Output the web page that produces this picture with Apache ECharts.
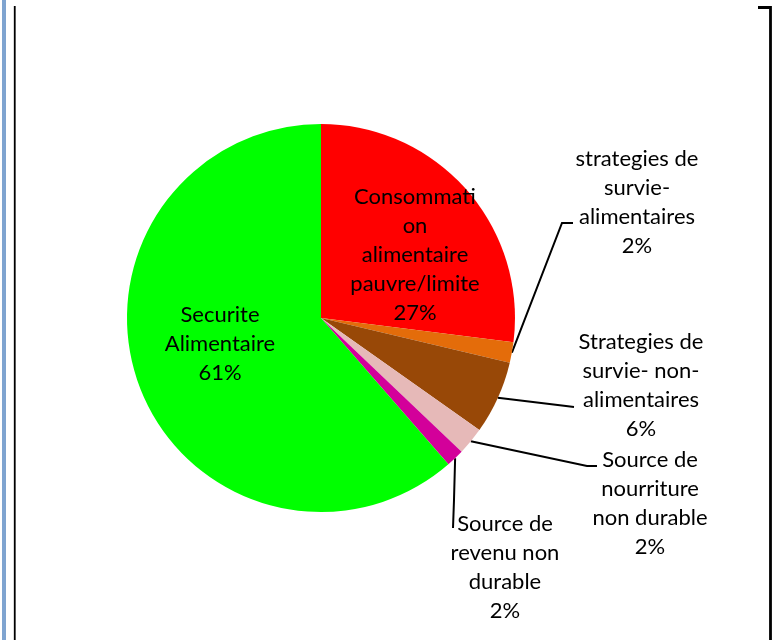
<!DOCTYPE html>
<html>
<head>
<meta charset="utf-8">
<script src="https://cdn.jsdelivr.net/npm/echarts@6/dist/echarts.min.js"></script>
<style>
html,body{margin:0;padding:0;background:#fff;}
#chart{width:775px;height:640px;}
</style>
</head>
<body>
<div id="chart"></div>
<script>
// ---- data ----
var categories = [
  'Consommati\non\nalimentaire\npauvre/limite',
  'strategies de\nsurvie-\nalimentaires',
  'Strategies de\nsurvie- non-\nalimentaires',
  'Source de\nnourriture\nnon durable',
  'Source de\nrevenu non\ndurable',
  'Securite\nAlimentaire'
];
var values = [27.0, 1.7, 6.1, 2.3, 1.5, 61.4];
var colors = ['#FF0000', '#E46C0A', '#984807', '#E6B9B8', '#D3009A', '#00FF00'];
var insideLabel = [true, false, false, false, false, true];

// label placement (centres of text blocks) and leader-line bends
var labelCenter = [[415, 255], [637, 202], [641, 385], [650, 503], [505, 567], [220, 344]];
var lineBends = [null, [[562, 223], [573, 223]], [[566, 406], [574, 407]], [[587, 466], [597, 466]], [[454, 500], [453, 528]], null];

var chart = echarts.init(document.getElementById('chart'), null, {renderer: 'canvas'});

var data = categories.map(function (c, i) {
  return {
    name: c,
    value: values[i],
    itemStyle: {color: colors[i]},
    label: {position: insideLabel[i] ? 'inside' : 'outside'},
    labelLine: {show: !insideLabel[i]}
  };
});

var option = {
  backgroundColor: '#ffffff',
  animation: false,
  graphic: [
    {type: 'rect', shape: {x: 2, y: 0, width: 4, height: 640}, style: {fill: '#7FA4D0'}, silent: true},
    {type: 'line', shape: {x1: 14.75, y1: 6, x2: 14.75, y2: 640}, style: {stroke: '#000', lineWidth: 1.8}, silent: true},
    {type: 'polyline', shape: {points: [[758, 7.5], [770.5, 7.5], [770.5, 640]]}, style: {stroke: '#000', lineWidth: 2.8, fill: null}, silent: true}
  ],
  series: [{
    type: 'pie',
    center: [321, 318],
    radius: [0, 194],
    startAngle: 90,
    clockwise: true,
    avoidLabelOverlap: false,
    data: data,
    label: {
      show: true,
      color: '#000',
      fontFamily: 'Lato',
      fontSize: 22,
      lineHeight: 29,
      align: 'center',
      formatter: function (p) {
        return p.name + '\n' + Math.round(p.percent) + '%';
      }
    },
    labelLine: {
      show: true,
      length: 20,
      length2: 20,
      lineStyle: {color: '#000', width: 2}
    },
    labelLayout: function (params) {
      var i = params.dataIndex;
      var res = {
        x: labelCenter[i][0],
        y: labelCenter[i][1],
        align: 'center',
        verticalAlign: 'middle'
      };
      if (lineBends[i] && params.labelLinePoints) {
        var s = params.labelLinePoints[0];
        res.labelLinePoints = [[s[0], s[1]], lineBends[i][0], lineBends[i][1]];
      }
      return res;
    },
    emphasis: {disabled: true}
  }]
};
chart.setOption(option);
</script>
</body>
</html>
